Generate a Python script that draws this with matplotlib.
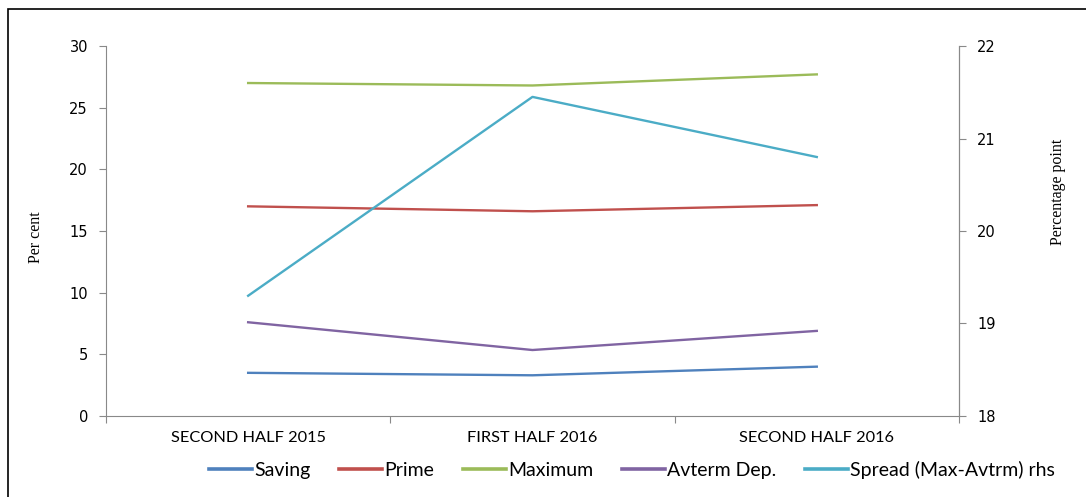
import matplotlib.pyplot as plt
from matplotlib.patches import Rectangle

# half-year periods
periods = ["SECOND HALF 2015", "FIRST HALF 2016", "SECOND HALF 2016"]

# interest rates, percent (left axis)
saving = [3.5, 3.3, 4.0]
prime = [17.0, 16.6, 17.1]
maximum = [27.0, 26.8, 27.7]
avterm = [7.6, 5.35, 6.9]

# spread maximum minus average term deposit, percentage point (right axis)
spread = [19.3, 21.45, 20.8]

grey = "#898989"

fig = plt.figure(figsize=(10.86, 4.97), dpi=100)
ax = fig.add_axes([0.0976, 0.163, 0.7854, 0.7444])
ax2 = ax.twinx()

x = list(range(len(periods)))
l1, = ax.plot(x, saving, color="#4F81BD", lw=1.7, label="Saving")
l2, = ax.plot(x, prime, color="#C0504D", lw=1.7, label="Prime")
l3, = ax.plot(x, maximum, color="#9BBB59", lw=1.7, label="Maximum")
l4, = ax.plot(x, avterm, color="#8064A2", lw=1.7, label="Avterm Dep.")
l5, = ax2.plot(x, spread, color="#4BACC6", lw=1.7, label="Spread (Max-Avtrm) rhs")

ax.set_xlim(-0.5, 2.5)
ax.set_ylim(0, 30)
ax.set_yticks(range(0, 31, 5))
ax2.set_ylim(18, 22)
ax2.set_yticks(range(18, 23))

# category ticks sit on the boundaries, labels in the middle
ax.set_xticks([-0.5, 0.5, 1.5, 2.5])
ax.set_xticklabels([])
ax.set_xticks(x, minor=True)
ax.set_xticklabels(periods, minor=True, fontsize=11.8, family="Lato")
ax.tick_params(axis="x", which="minor", length=0, pad=11)
ax.tick_params(axis="x", which="major", length=5, color=grey)

for a in (ax, ax2):
    a.spines["top"].set_visible(False)
    for s in ("left", "right", "bottom"):
        a.spines[s].set_color(grey)
    a.tick_params(axis="y", length=5, color=grey, labelsize=10.5, pad=8)
ax2.spines["left"].set_visible(False)
ax2.spines["bottom"].set_visible(False)

fig.text(0.033, 0.523, "Per cent", rotation=90, ha="center", va="center",
         family="Liberation Serif", fontsize=11.5)
fig.text(0.974, 0.614, "Percentage point", rotation=90, ha="center", va="center",
         family="Liberation Serif", fontsize=11.5)

leg = fig.legend(handles=[l1, l2, l3, l4, l5], loc="center", bbox_to_anchor=(0.582, 0.054),
                 ncol=5, frameon=False, prop={"family": "Lato", "size": 14},
                 handlelength=2.2, handletextpad=0.1, columnspacing=1.5)
for h in leg.get_lines():
    h.set_linewidth(2.6)

# outer frame, open to the right and bottom
fig.patches.append(Rectangle((8 / 1086, -0.1), 1.2, 1.1 - 9 / 497,
                             transform=fig.transFigure, fill=False,
                             edgecolor="black", lw=1.2))

fig.savefig("out.png", dpi=100)
